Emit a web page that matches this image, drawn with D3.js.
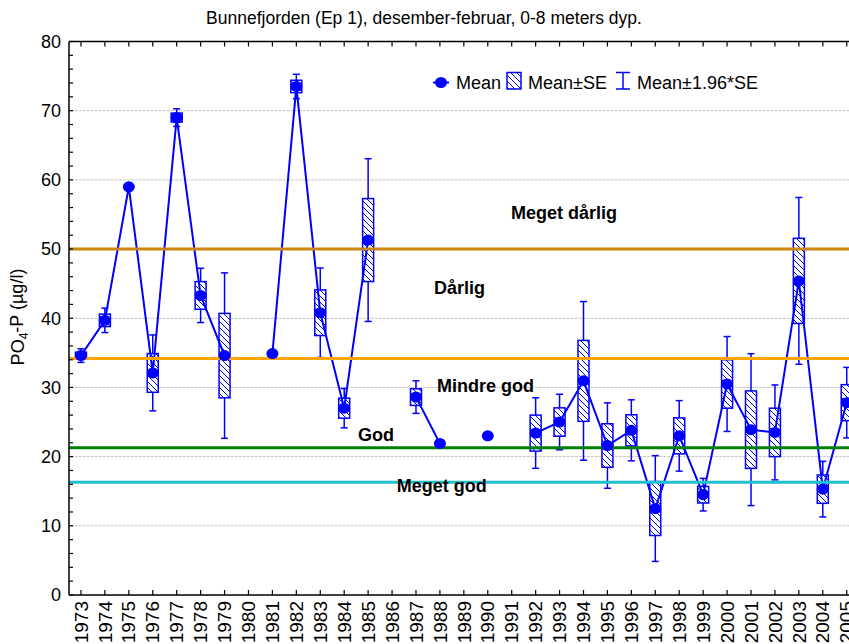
<!DOCTYPE html>
<html>
<head>
<meta charset="utf-8">
<script src="https://cdn.jsdelivr.net/npm/d3@7"></script>
<style>
  body { margin: 0; background: #fff; }
  text { font-family: "Liberation Sans", Arial, sans-serif; }
</style>
</head>
<body>
<div id="chart"></div>
<script>
// years on the x axis, one box per year
const years = d3.range(1973, 2006);
// mean PO4-P per year (null = no data)
const means = [34.6, 39.7, 59.0, 32.1, 69.0, 43.3, 34.6, null, 34.9, 73.5, 40.8, 27.0, 51.3, null, 28.6, 21.9,
               null, 23.0, null, 23.4, 25.0, 30.95, 21.6, 23.8, 12.5, 23.0, 14.5, 30.5, 23.9, 23.5, 45.4, 15.3, 27.8];
// standard error per year
const ses   = [0.5, 0.9, 0, 2.8, 0.65, 2.0, 6.1, null, 0, 0.9, 3.3, 1.45, 6.0, null, 1.2, 0,
               null, 0, null, 2.6, 2.05, 5.85, 3.15, 2.25, 3.9, 2.6, 1.2, 3.5, 5.6, 3.5, 6.15, 2.05, 2.6];
const yTicks = [0, 10, 20, 30, 40, 50, 60, 70, 80];
// class limits
const limits = [50, 34.2, 21.3, 16.3];
const limitColors = ["#c8860a", "#ffa500", "#008000", "#1ebfcf"];
const classNames = ["Meget dårlig", "Dårlig", "Mindre god", "God", "Meget god"];
const classAt = [[1990.97, 54.3], [1987.75, 43.5], [1987.88, 29.3], [1984.58, 22.2], [1986.2, 14.9]];

const W = 849, H = 644;
const margin = {top: 41.5, left: 69, bottom: 49};
const bw = 23.93;

const svg = d3.select("#chart").append("svg")
    .attr("width", W)
    .attr("height", H);

const x = d3.scaleBand()
    .domain(years)
    .range([margin.left, margin.left + years.length * bw]);
const xl = d3.scaleLinear()
    .domain([1973, 2005])
    .range([x(1973) + bw / 2, x(2005) + bw / 2]);
const y = d3.scaleLinear()
    .domain([0, 80])
    .range([H - margin.bottom, margin.top]);

const defs = svg.append("defs");
const pat = defs.append("pattern")
    .attr("id", "hatch")
    .attr("patternUnits", "userSpaceOnUse")
    .attr("width", 6).attr("height", 6);
pat.append("rect").attr("width", 6).attr("height", 6).attr("fill", "#fff");
pat.append("path")
    .attr("d", "M-1,-1 L7,7 M-1,5 L1,7 M5,-1 L7,1")
    .attr("stroke", "#0000ff").attr("stroke-width", 1);

const clip = defs.append("clipPath").attr("id", "plotclip");
clip.append("rect").attr("x", margin.left).attr("y", 0).attr("width", W).attr("height", H - margin.bottom);

// title
svg.append("text")
    .attr("x", 424).attr("y", 24)
    .attr("text-anchor", "middle")
    .attr("font-size", 17.5)
    .text("Bunnefjorden (Ep 1), desember-februar, 0-8 meters dyp.");

// grid
svg.append("g").selectAll("line")
    .data(yTicks.filter(d => d > 0 && d < 80))
    .join("line")
    .attr("x1", margin.left + 2).attr("x2", W)
    .attr("y1", d => y(d)).attr("y2", d => y(d))
    .attr("stroke", "#c4c4c4")
    .attr("stroke-dasharray", "3,1");

const plot = svg.append("g").attr("clip-path", "url(#plotclip)");

const pts = years.map((yr, i) => ({yr, m: means[i], se: ses[i]})).filter(d => d.m != null);
const cx = d => x(d.yr) + bw / 2;

// whiskers: mean +- 1.96*SE
const wk = plot.append("g").attr("stroke", "#0000ff").attr("stroke-width", 1.5)
  .selectAll("g").data(pts.filter(d => d.se > 0)).join("g");
wk.append("line")
    .attr("x1", cx).attr("x2", cx)
    .attr("y1", d => y(d.m + 1.96 * d.se)).attr("y2", d => y(d.m - 1.96 * d.se));
wk.append("line")
    .attr("x1", d => cx(d) - 3.5).attr("x2", d => cx(d) + 3.5)
    .attr("y1", d => y(d.m + 1.96 * d.se)).attr("y2", d => y(d.m + 1.96 * d.se));
wk.append("line")
    .attr("x1", d => cx(d) - 3.5).attr("x2", d => cx(d) + 3.5)
    .attr("y1", d => y(d.m - 1.96 * d.se)).attr("y2", d => y(d.m - 1.96 * d.se));

// boxes: mean +- SE
plot.append("g").selectAll("rect")
    .data(pts.filter(d => d.se > 0))
    .join("rect")
    .attr("x", d => cx(d) - 5.5)
    .attr("width", 11)
    .attr("y", d => y(d.m + d.se))
    .attr("height", d => y(d.m - d.se) - y(d.m + d.se))
    .attr("fill", "url(#hatch)")
    .attr("stroke", "#0000ff")
    .attr("stroke-width", 1.5);

// connecting line (gaps where data missing)
const line = d3.line()
    .defined((d, i) => means[i] != null)
    .x((d, i) => x(d) + bw / 2)
    .y((d, i) => y(means[i]));
plot.append("path")
    .datum(years)
    .attr("d", line)
    .attr("fill", "none")
    .attr("stroke", "#0000ff")
    .attr("stroke-width", 2);

// class limit lines
plot.append("g").selectAll("line")
    .data(limits)
    .join("line")
    .attr("x1", margin.left).attr("x2", W)
    .attr("y1", d => y(d)).attr("y2", d => y(d))
    .attr("stroke", (d, i) => limitColors[i])
    .attr("stroke-width", 3);

// means
plot.append("g").selectAll("ellipse")
    .data(pts)
    .join("ellipse")
    .attr("cx", cx).attr("cy", d => y(d.m))
    .attr("rx", 6).attr("ry", 5.5)
    .attr("fill", "#0000ff");

// class labels
svg.append("g").selectAll("text")
    .data(classNames)
    .join("text")
    .attr("x", (d, i) => xl(classAt[i][0]))
    .attr("y", (d, i) => y(classAt[i][1]))
    .attr("font-size", 18)
    .attr("font-weight", "bold")
    .text(d => d);

// axes frame
const ax = svg.append("g").attr("stroke", "#000").attr("stroke-width", 1.5);
ax.append("line").attr("x1", margin.left).attr("x2", margin.left).attr("y1", y(80)).attr("y2", y(0));
ax.append("line").attr("x1", margin.left).attr("x2", W).attr("y1", y(0)).attr("y2", y(0));
ax.append("line").attr("x1", margin.left).attr("x2", W).attr("y1", y(80)).attr("y2", y(80));

// y ticks every 2 units, pointing inward
ax.append("g").selectAll("line")
    .data(d3.range(0, 81, 2))
    .join("line")
    .attr("x1", margin.left).attr("x2", margin.left + 4)
    .attr("y1", d => y(d)).attr("y2", d => y(d))
    .attr("stroke-width", 1.2);
// x ticks bottom (up) and top (down)
ax.append("g").selectAll("line")
    .data(years)
    .join("line")
    .attr("x1", d => x(d) + bw / 2).attr("x2", d => x(d) + bw / 2)
    .attr("y1", y(0)).attr("y2", y(0) - 5)
    .attr("stroke-width", 1.2);
ax.append("g").selectAll("line")
    .data(years)
    .join("line")
    .attr("x1", d => x(d) + bw / 2).attr("x2", d => x(d) + bw / 2)
    .attr("y1", y(80)).attr("y2", y(80) + 5)
    .attr("stroke-width", 1.2);

svg.append("g").selectAll("text")
    .data(yTicks)
    .join("text")
    .attr("x", 61)
    .attr("y", d => y(d))
    .attr("dy", "0.35em")
    .attr("text-anchor", "end")
    .attr("font-size", 18)
    .text(d => d);

svg.append("g").selectAll("text")
    .data(years)
    .join("text")
    .attr("transform", d => "translate(" + (x(d) + bw / 2) + "," + 601 + ") rotate(-90)")
    .attr("dy", "0.35em")
    .attr("text-anchor", "end")
    .attr("font-size", 19)
    .text(d => d);

// y axis title
const yt = svg.append("text")
    .attr("transform", "translate(18,317) rotate(-90)")
    .attr("dy", "0.35em")
    .attr("text-anchor", "middle")
    .attr("font-size", 18);
yt.append("tspan").text("PO");
yt.append("tspan").attr("font-size", 12).attr("dy", "0.3em").text("4");
yt.append("tspan").attr("dy", "-0.3em").text("-P (µg/l)");

// legend
const lg = svg.append("g");
lg.append("line").attr("x1", 433).attr("x2", 449).attr("y1", 82.5).attr("y2", 82.5)
    .attr("stroke", "#0000ff").attr("stroke-width", 2);
lg.append("ellipse").attr("cx", 441).attr("cy", 82.5).attr("rx", 6).attr("ry", 5.5).attr("fill", "#0000ff");
lg.append("text").attr("x", 456).attr("y", 89).attr("font-size", 18).text("Mean");
lg.append("rect").attr("x", 507).attr("y", 72.5).attr("width", 14).attr("height", 16.5)
    .attr("fill", "url(#hatch)").attr("stroke", "#0000ff").attr("stroke-width", 1.5);
lg.append("text").attr("x", 528).attr("y", 89).attr("font-size", 18).text("Mean±SE");
const wl = lg.append("g").attr("stroke", "#0000ff").attr("stroke-width", 1.5);
wl.append("line").attr("x1", 623).attr("x2", 623).attr("y1", 72.5).attr("y2", 89);
wl.append("line").attr("x1", 616).attr("x2", 630).attr("y1", 72.5).attr("y2", 72.5);
wl.append("line").attr("x1", 616).attr("x2", 630).attr("y1", 89).attr("y2", 89);
lg.append("text").attr("x", 637).attr("y", 89).attr("font-size", 18).text("Mean±1.96*SE");
</script>
</body>
</html>
